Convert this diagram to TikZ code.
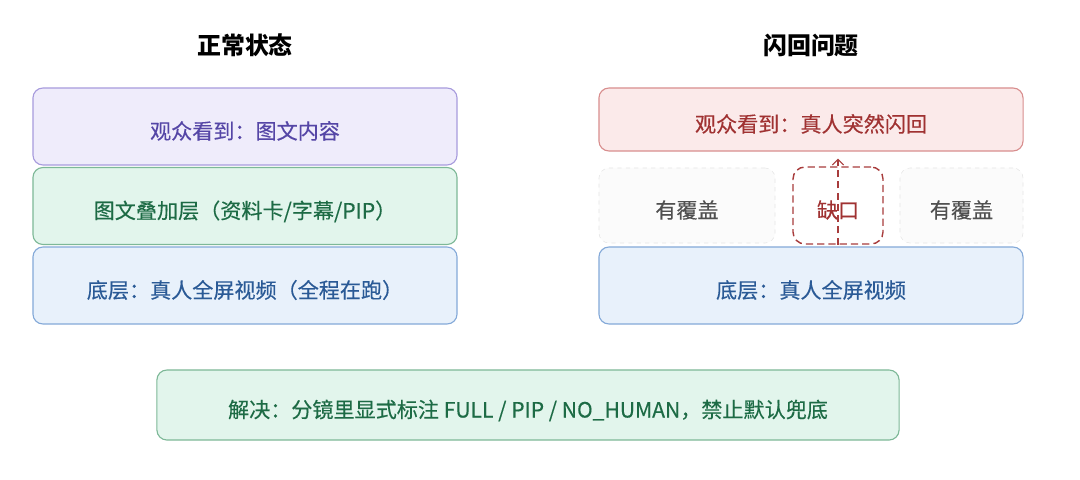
\documentclass[tikz,border=0pt]{standalone}
\usepackage{fontspec}
\setmainfont{Noto Sans CJK SC}
\newfontfamily\boxfont[FakeBold=0.35]{Noto Sans CJK SC}
\usepackage{xcolor}
\usetikzlibrary{arrows.meta,positioning,calc}

\definecolor{purpfill}{HTML}{EFECFB}
\definecolor{purpline}{HTML}{A79BDD}
\definecolor{purptext}{HTML}{5546A6}
\definecolor{greenfill}{HTML}{E2F5EC}
\definecolor{greenline}{HTML}{7DB897}
\definecolor{greentext}{HTML}{1D6B45}
\definecolor{bluefill}{HTML}{E8F1FB}
\definecolor{blueline}{HTML}{84A9D8}
\definecolor{bluetext}{HTML}{2A5A96}
\definecolor{redfill}{HTML}{FBEAEA}
\definecolor{redline}{HTML}{D88E8E}
\definecolor{redtext}{HTML}{A03232}
\definecolor{gapline}{HTML}{A83C3C}
\definecolor{greyfill}{HTML}{FBFBFB}
\definecolor{greyline}{HTML}{E6E6E6}
\definecolor{greytext}{HTML}{505050}

\begin{document}
\begin{tikzpicture}[
    x=0.025cm, y=-0.025cm,
    boxtext/.style={inner sep=0pt, text height=1.9em, text depth=0.12em,
                    font=\boxfont\fontsize{15}{18}\selectfont},
    layer/.style={draw, boxtext, rounded corners=0.25cm, line width=0.8pt, minimum width=10.6cm,
                  minimum height=1.925cm, align=center},
    cover/.style={draw=greyline, dashed, fill=greyfill, boxtext, rounded corners=0.25cm,
                  minimum height=1.875cm, text=greytext},
    gapbox/.style={draw=gapline, dash pattern=on 5pt off 3pt, line width=1pt, boxtext,
                   rounded corners=0.3cm, minimum width=2.25cm, minimum height=1.925cm, text=redtext},
    heading/.style={font=\fontsize{17}{20}\selectfont\bfseries},
    arrow/.style={-{Straight Barb[length=4pt,width=8pt]}, dash pattern=on 5pt off 3pt,
                  line width=0.8pt, draw=gapline}
]
    \useasboundingbox (0,0) rectangle (1080,480);

    % Left column: normal state
    \node[heading] (normtitle) at (245,45) {正常状态};
    \node[layer, fill=purpfill, draw=purpline, text=purptext] (seen) at (245,126.5) {观众看到：图文内容};
    \node[layer, fill=greenfill, draw=greenline, text=greentext] (overlay) at (245,206) {图文叠加层（资料卡/字幕/PIP）};
    \node[layer, fill=bluefill, draw=blueline, text=bluetext] (base) at (245,285.5) {底层：真人全屏视频（全程在跑）};

    % Right column: flashback problem
    \node[heading] (probtitle) at (811,45) {闪回问题};
    \node[layer, fill=redfill, draw=redline, text=redtext, minimum height=1.575cm] (flash) at (811,119.5) {观众看到：真人突然闪回};
    \node[cover, minimum width=4.4cm] (covl) at (687,205.5) {有覆盖};
    \node[gapbox] (gap) at (838,205.5) {缺口};
    \node[cover, minimum width=3.075cm] (covr) at (961.5,205.5) {有覆盖};
    \node[layer, fill=bluefill, draw=blueline, text=bluetext] (base2) at (811,285.5) {底层：真人全屏视频};

    % Leak through the gap
    \draw[arrow, shorten >=5pt] (gap.south) -- (gap.south |- flash.south);

    % Fix
    \node[layer, fill=greenfill, draw=greenline, text=greentext, minimum width=18.55cm,
          minimum height=1.75cm] (fix) at (528,405) {解决：分镜里显式标注 FULL / PIP / NO\_HUMAN，禁止默认兜底};
\end{tikzpicture}
\end{document}
